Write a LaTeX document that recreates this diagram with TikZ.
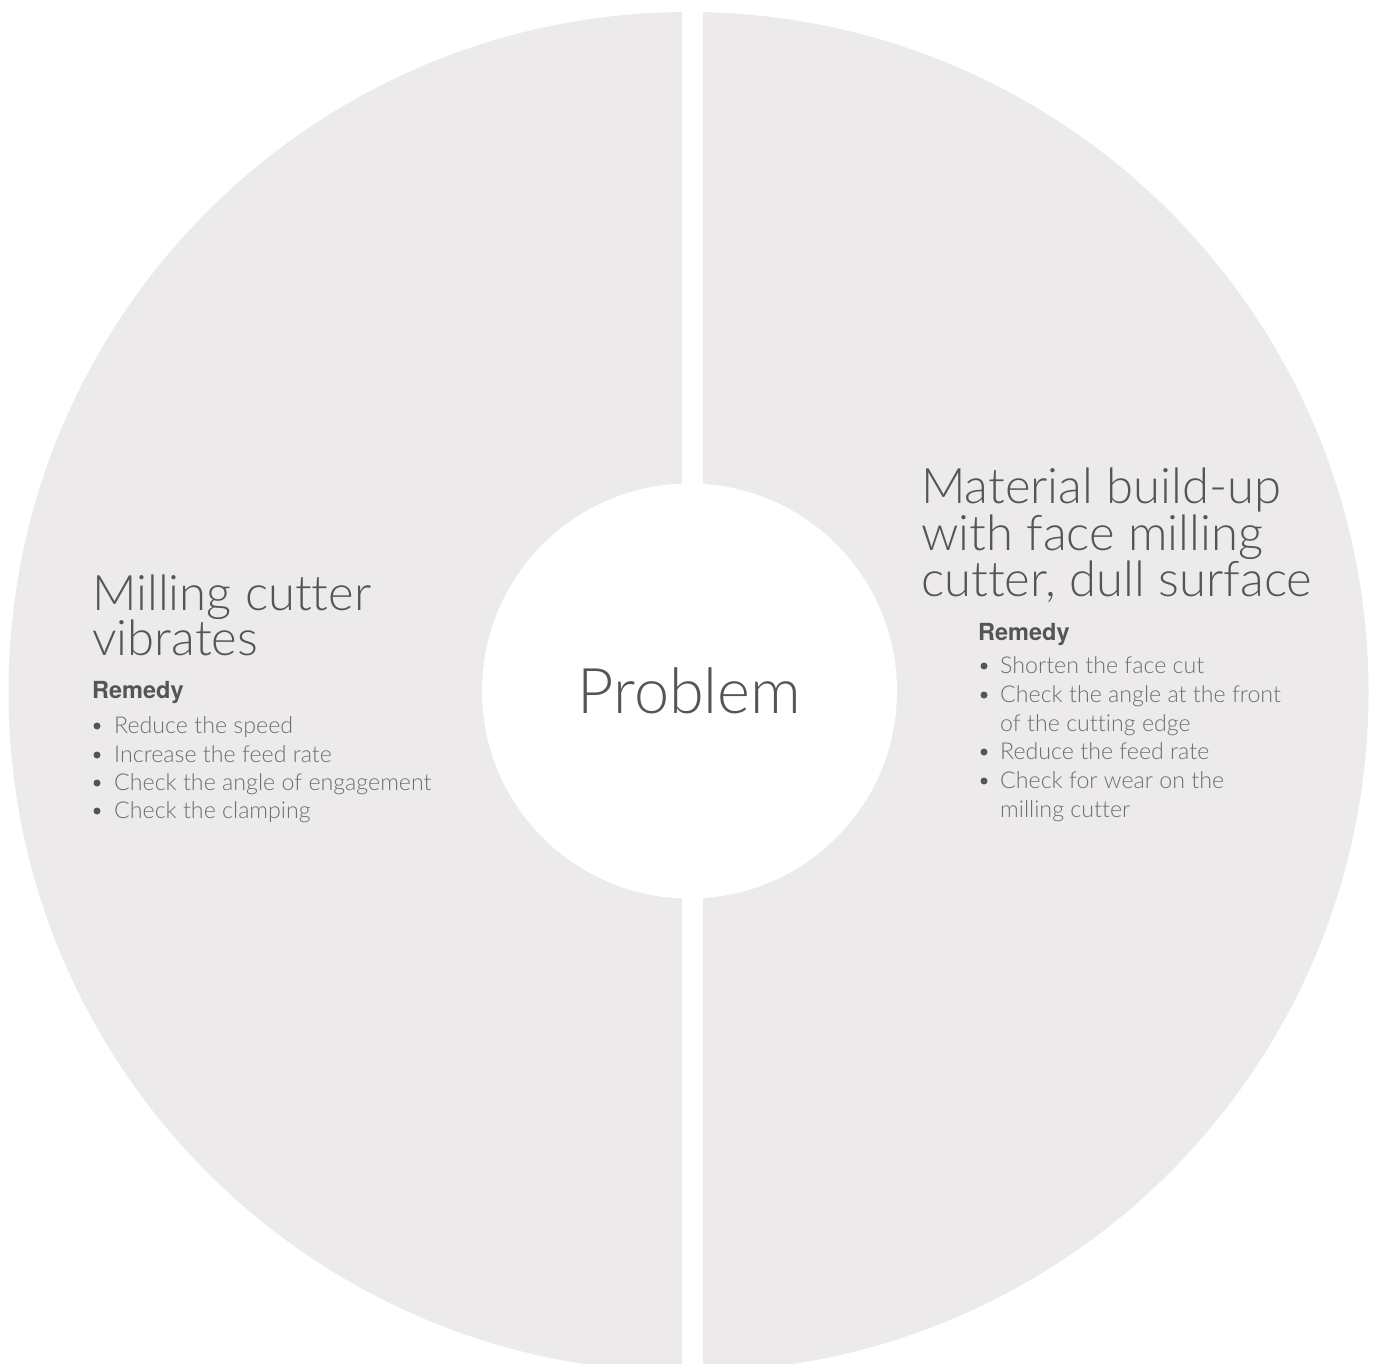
\documentclass[tikz,border=0pt]{standalone}
\usepackage{fontspec}
\IfFontExistsTF{Lato Light}{\setmainfont{Lato Light}[Ligatures={NoCommon,NoRare}]}{\setmainfont{Lato}[Ligatures={NoCommon,NoRare}]}
\newfontfamily\boldhead{TeX Gyre Heros}[BoldFont=* Bold]
\definecolor{ringfill}{HTML}{ECEAEB}
\definecolor{headcol}{HTML}{555555}
\definecolor{itemcol}{HTML}{6E6E6E}
\tikzset{
  title/.style={anchor=base west, inner sep=0pt, text=headcol, font=\fontsize{49}{46}\selectfont},
  remedy/.style={anchor=base west, inner sep=0pt, text=headcol, font=\boldhead\bfseries\fontsize{23.5}{26}\selectfont},
  itemtxt/.style={anchor=base west, inner sep=0pt, text=itemcol, font=\fontsize{23.2}{28}\selectfont},
  dotcol/.style={fill=headcol}
}
\begin{document}
\begin{tikzpicture}[x=1pt,y=-1pt]
\useasboundingbox (0,0) rectangle (1375,1364);
\begin{scope}
  \clip (0,0) rectangle (1375,1364);
  \fill[ringfill] (688.5,692) circle [radius=680pt];
\end{scope}
\fill[white] (682,0) rectangle (703,1364);
\node[circle, fill=white, minimum size=415pt, inner sep=0pt, text=headcol,
      font=\fontsize{63}{63}\selectfont] (problem) at (689.5,691) {Problem};

% left segment
\node[title] (l1) at (92,610) {Milling cutter};
\node[title] (l2) at (92,655) {vibrates};
\node[remedy] (lrem) at (92,698) {Remedy};
\node[itemtxt] (la) at (114,733) {Reduce the speed};
\node[itemtxt] (lb) at (114,762) {Increase the feed rate};
\node[itemtxt] (lc) at (114,790) {Check the angle of engagement};
\node[itemtxt] (ld) at (114,818) {Check the clamping};
\foreach \yy in {733,762,790,818} \fill[dotcol] (97,\yy-7) circle [radius=3.5pt];

% right segment
\node[title] (r1) at (921,503) {Material build-up};
\node[title] (r2) at (921,550) {with face milling};
\node[title] (r3) at (921,596) {cutter, dull surface};
\node[remedy] (rrem) at (978,640) {Remedy};
\node[itemtxt] (ra) at (1000,673) {Shorten the face cut};
\node[itemtxt] (rb) at (1000,702) {Check the angle at the front};
\node[itemtxt] (rb2) at (1000,731) {of the cutting edge};
\node[itemtxt] (rc) at (1000,759) {Reduce the feed rate};
\node[itemtxt] (rd) at (1000,788) {Check for wear on the};
\node[itemtxt] (rd2) at (1000,817) {milling cutter};
\foreach \yy in {673,702,759,788} \fill[dotcol] (984,\yy-7) circle [radius=3.5pt];
\end{tikzpicture}
\end{document}
